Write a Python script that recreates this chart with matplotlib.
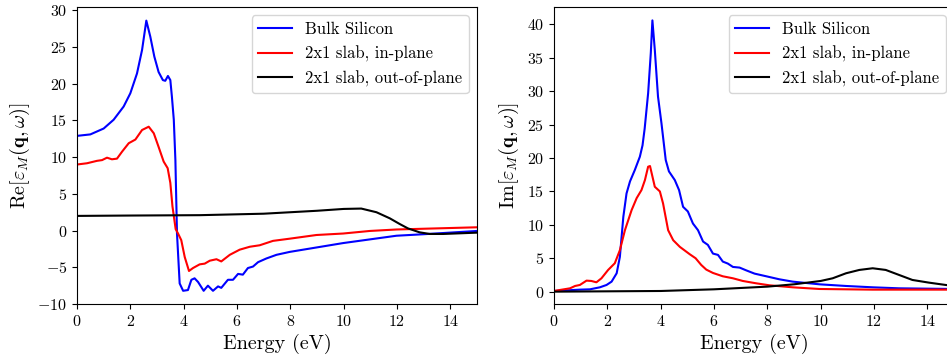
import matplotlib
matplotlib.use('Agg')
import matplotlib.pyplot as plt

plt.rcParams['font.family'] = 'serif'
plt.rcParams['font.serif'] = ['cmr10']
plt.rcParams['mathtext.fontset'] = 'cm'
plt.rcParams['axes.formatter.use_mathtext'] = True

labels = ['Bulk Silicon', '2x1 slab, in-plane', '2x1 slab, out-of-plane']
colors = ['blue', 'red', 'black']

# Real part
re_bulk_E = [0, 0.5, 1.0, 1.375, 1.75, 2.0, 2.25, 2.44, 2.6, 2.75, 2.9, 3.06, 3.22, 3.31,
             3.41, 3.5, 3.56, 3.63, 3.69, 3.75, 3.85, 3.98, 4.16, 4.29, 4.41, 4.54, 4.75,
             4.91, 5.1, 5.29, 5.41, 5.66, 5.85, 6.04, 6.22, 6.41, 6.6, 6.79, 7.1, 7.48,
             7.98, 8.98, 9.98, 10.98, 11.98, 12.98, 15]
re_bulk = [12.9, 13.1, 13.9, 15.1, 16.9, 18.7, 21.4, 24.6, 28.6, 26.4, 23.7, 21.6, 20.5, 20.4,
           21.06, 20.5, 18.2, 15.1, 9.6, -0.4, -7.2, -8.2, -8.1, -6.7, -6.5, -7.0, -8.2,
           -7.5, -8.2, -7.6, -7.8, -6.7, -6.7, -5.9, -6.0, -5.1, -4.9, -4.3, -3.8, -3.3,
           -2.9, -2.3, -1.7, -1.2, -0.7, -0.5, -0.05]

re_in_E = [0, 0.375, 0.75, 0.94, 1.125, 1.31, 1.5, 1.69, 1.94, 2.19, 2.44, 2.69, 2.88, 3.06,
           3.25, 3.4, 3.5, 3.58, 3.7, 3.79, 3.91, 4.04, 4.2, 4.35, 4.6, 4.79, 4.98, 5.23,
           5.41, 5.73, 6.1, 6.48, 6.85, 7.35, 7.98, 8.98, 9.98, 10.98, 11.98, 12.98, 15]
re_in = [9.0, 9.17, 9.5, 9.6, 9.93, 9.71, 9.8, 10.75, 11.9, 12.4, 13.7, 14.15, 13.25, 11.4,
         9.4, 8.5, 6.5, 3.3, 0.2, -0.4, -1.3, -3.6, -5.5, -5.1, -4.6, -4.5, -4.1, -3.9,
         -4.2, -3.3, -2.6, -2.2, -2.0, -1.4, -1.1, -0.6, -0.4, -0.05, 0.15, 0.25, 0.45]

re_out_E = [0, 2, 4.6, 7, 9, 10, 10.66, 11.23, 11.73, 12.1, 12.41, 12.85, 13.23, 13.73, 15]
re_out = [2.0, 2.05, 2.1, 2.3, 2.7, 2.95, 3.0, 2.5, 1.67, 0.9, 0.3, -0.24, -0.46, -0.46, -0.28]

# Imaginary part
im_bulk_E = [0, 0.97, 1.35, 1.72, 1.97, 2.16, 2.35, 2.47, 2.6, 2.72, 2.85, 3.03, 3.22,
             3.32, 3.4, 3.53, 3.63, 3.69, 3.78, 3.9, 4.03, 4.19, 4.31, 4.53, 4.69, 4.84,
             5.02, 5.21, 5.4, 5.59, 5.77, 5.96, 6.15, 6.33, 6.52, 6.71, 6.96, 7.2, 7.52,
             7.96, 8.45, 8.95, 9.95, 10.95, 11.95, 12.94, 13.94, 15]
im_bulk = [0.1, 0.3, 0.35, 0.65, 1.0, 1.5, 2.75, 5.2, 11.2, 14.7, 16.5, 18.2, 20.2,
           21.9, 24.4, 29.7, 35.7, 40.6, 36.2, 29.2, 25.2, 19.7, 18.0, 16.7, 15.2, 12.7,
           12.0, 10.2, 9.2, 7.5, 7.0, 5.7, 5.5, 4.5, 4.2, 3.7, 3.6, 3.2, 2.7,
           2.3, 1.85, 1.5, 1.1, 0.85, 0.65, 0.5, 0.45, 0.4]

im_in_E = [0, 0.22, 0.6, 0.79, 0.97, 1.22, 1.4, 1.59, 1.78, 2.03, 2.28, 2.47, 2.66, 2.91,
           3.1, 3.28, 3.41, 3.53, 3.6, 3.78, 3.97, 4.09, 4.28, 4.47, 4.72, 5.09, 5.31,
           5.52, 5.71, 5.96, 6.33, 6.71, 7.08, 7.58, 8.08, 8.95, 9.95, 11.95, 15]
im_in = [0.1, 0.25, 0.5, 0.85, 1.0, 1.65, 1.6, 1.4, 2.0, 3.25, 4.25, 6.2, 9.2, 12.2,
         14.0, 15.2, 16.7, 18.7, 18.8, 15.7, 15.0, 13.2, 9.2, 7.7, 6.7, 5.6, 5.0,
         4.0, 3.3, 2.8, 2.3, 2.0, 1.6, 1.25, 0.95, 0.65, 0.4, 0.3, 0.3]

im_out_E = [0, 2, 4, 6, 8, 9, 10, 10.45, 10.95, 11.45, 11.95, 12.44, 12.94, 13.44, 14.06,
            14.69, 15]
im_out = [0.0, 0.05, 0.1, 0.35, 0.75, 1.1, 1.6, 2.0, 2.75, 3.25, 3.5, 3.25, 2.5, 1.75, 1.35,
          1.0, 0.85]

fig = plt.figure(figsize=(9.47, 3.58), dpi=100)
ax1 = fig.add_axes([0.0813, 0.1508, 0.4224, 0.8296])
ax2 = fig.add_axes([0.585, 0.1508, 0.4224, 0.8296])

for E, v, c, lab in zip([re_bulk_E, re_in_E, re_out_E], [re_bulk, re_in, re_out], colors, labels):
    ax1.plot(E, v, color=c, lw=1.5, label=lab)
for E, v, c, lab in zip([im_bulk_E, im_in_E, im_out_E], [im_bulk, im_in, im_out], colors, labels):
    ax2.plot(E, v, color=c, lw=1.5, label=lab)

ax1.set_xlim(0, 15)
ax1.set_ylim(-10, 30.45)
ax1.set_yticks([-10, -5, 0, 5, 10, 15, 20, 25, 30])
ax1.set_ylabel(r'$\mathrm{Re}[\varepsilon_M(\mathbf{q},\omega)]$', fontsize=14.5)

ax2.set_xlim(0, 15)
ax2.set_ylim(-1.85, 42.6)
ax2.set_yticks([0, 5, 10, 15, 20, 25, 30, 35, 40])
ax2.set_ylabel(r'$\mathrm{Im}[\varepsilon_M(\mathbf{q},\omega)]$', fontsize=14.5)

for ax in (ax1, ax2):
    ax.set_xticks([0, 2, 4, 6, 8, 10, 12, 14])
    ax.set_xlabel('Energy (eV)', fontsize=14.5)
    ax.tick_params(labelsize=11.5)
    ax.legend(loc='upper right', fontsize=12)

fig.savefig('out.png', dpi=100)
